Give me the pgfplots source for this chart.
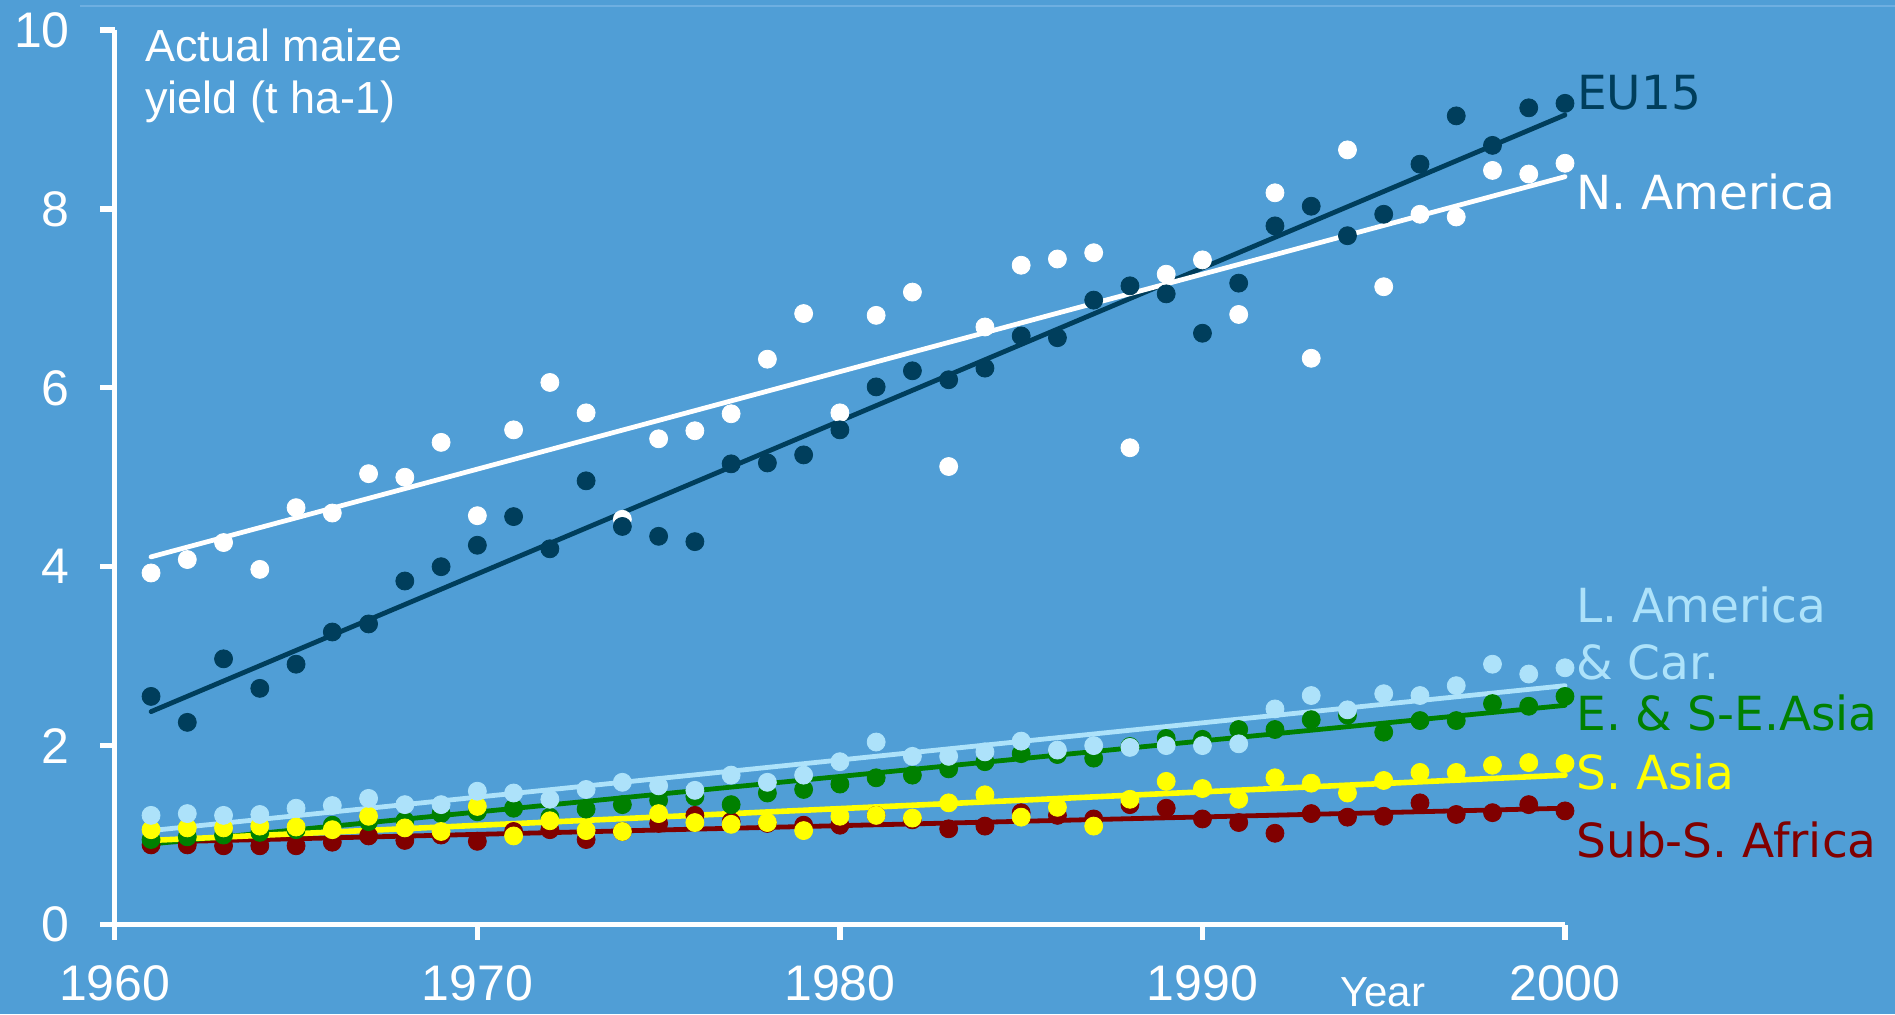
\documentclass[border=0pt]{standalone}
\usepackage{pgfplots}
\pgfplotsset{compat=1.18}
\usepackage{pgfplotstable}
\usepackage{fontspec}
\setmainfont{Liberation Sans}
\newfontfamily\dejavu{DejaVu Sans}
\definecolor{bg}{RGB}{80,158,214}
\definecolor{eu}{RGB}{0,62,92}
\definecolor{la}{RGB}{173,226,250}
\definecolor{ea}{RGB}{0,128,0}
\definecolor{sa}{RGB}{255,255,0}
\definecolor{ss}{RGB}{128,0,0}
\definecolor{topline}{RGB}{110,175,225}

\pgfplotstableread{
year eu na la ea sa ss
1961 2.55 3.93 1.22 0.95 1.06 0.89
1962 2.26 4.08 1.24 0.98 1.08 0.89
1963 2.97 4.27 1.22 1.00 1.08 0.88
1964 2.64 3.97 1.23 1.03 1.10 0.88
1965 2.91 4.66 1.30 1.06 1.09 0.88
1966 3.27 4.60 1.33 1.11 1.06 0.92
1967 3.36 5.04 1.41 1.15 1.21 0.99
1968 3.84 5.00 1.34 1.16 1.08 0.94
1969 4.00 5.39 1.34 1.24 1.04 1.00
1970 4.24 4.57 1.49 1.26 1.32 0.93
1971 4.56 5.53 1.47 1.30 0.99 1.04
1972 4.20 6.06 1.40 1.20 1.16 1.06
1973 4.96 5.72 1.51 1.29 1.05 0.95
1974 4.45 4.53 1.59 1.34 1.04 1.04
1975 4.34 5.43 1.55 1.39 1.24 1.13
1976 4.28 5.52 1.50 1.43 1.14 1.22
1977 5.15 5.71 1.67 1.34 1.12 1.15
1978 5.16 6.32 1.59 1.47 1.14 1.13
1979 5.25 6.83 1.67 1.51 1.05 1.11
1980 5.53 5.72 1.82 1.57 1.21 1.11
1981 6.01 6.81 2.04 1.64 1.22 1.22
1982 6.19 7.07 1.88 1.67 1.19 1.17
1983 6.09 5.12 1.88 1.74 1.36 1.07
1984 6.22 6.68 1.93 1.82 1.45 1.10
1985 6.58 7.37 2.05 1.91 1.20 1.25
1986 6.56 7.44 1.95 1.90 1.31 1.22
1987 6.98 7.51 2.00 1.86 1.10 1.18
1988 7.14 5.33 1.98 1.99 1.40 1.34
1989 7.05 7.27 2.00 2.08 1.60 1.30
1990 6.61 7.43 2.00 2.07 1.52 1.18
1991 7.17 6.82 2.02 2.18 1.40 1.14
1992 7.81 8.18 2.41 2.18 1.64 1.02
1993 8.03 6.33 2.56 2.29 1.58 1.24
1994 7.70 8.66 2.40 2.34 1.47 1.20
1995 7.94 7.13 2.58 2.15 1.61 1.21
1996 8.50 7.94 2.56 2.28 1.70 1.36
1997 9.04 7.91 2.67 2.28 1.70 1.23
1998 8.71 8.43 2.91 2.47 1.78 1.25
1999 9.13 8.39 2.80 2.44 1.81 1.34
2000 9.18 8.51 2.87 2.55 1.80 1.27
}\yields

\pgfplotstableread{
year eu na la ea sa ss
1961 2.38 4.11 1.05 0.90 0.94 0.92
2000 9.05 8.36 2.67 2.45 1.67 1.30
}\trends

\begin{document}
\begin{tikzpicture}
\useasboundingbox (0,0) rectangle (947.5pt,507pt);
\fill[bg] (0,0) rectangle (947.5pt,507pt);
\draw[topline, line width=0.6pt] (40pt,504pt) -- (947.5pt,504pt);
\begin{axis}[
  at={(57.4pt,44.75pt)}, anchor=south west,
  scale only axis, width=725.1pt, height=447.25pt,
  xmin=1960, xmax=2000, ymin=0, ymax=10,
  axis x line*=bottom, axis y line*=left,
  axis line style={white, line width=2.6pt},
  xtick={1960,1970,1980,1990,2000},
  ytick={0,2,4,6,8,10},
  tick style={white, line width=2.6pt},
  tick align=outside, major tick length=7.5pt,
  /pgf/number format/1000 sep={},
  /pgf/number format/assume math mode=true,
  ticklabel style={font=\fontsize{25}{30}\selectfont, text=white, inner sep=0pt},
  x tick label style={anchor=north, yshift=-12.75pt},
  y tick label style={anchor=east, xshift=-14.9pt},
  clip=false,
  every axis plot/.append style={line cap=round},
  dots/.style={only marks, mark=*, mark size=4.5pt, mark options={draw=none}},
]
\addplot[white, dots] table[x=year, y=na] {\yields};
\addplot[eu, dots] table[x=year, y=eu] {\yields};
\addplot[ss, dots] table[x=year, y=ss] {\yields};
\addplot[ea, dots] table[x=year, y=ea] {\yields};
\addplot[sa, dots] table[x=year, y=sa] {\yields};
\addplot[la, dots] table[x=year, y=la] {\yields};

\addplot[eu, line width=2.4pt, no marks] table[x=year, y=eu] {\trends};
\addplot[white, line width=2.4pt, no marks] table[x=year, y=na] {\trends};
\addplot[ss, line width=2.4pt, no marks] table[x=year, y=ss] {\trends};
\addplot[ea, line width=2.4pt, no marks] table[x=year, y=ea] {\trends};
\addplot[la, line width=2.4pt, no marks] table[x=year, y=la] {\trends};
\addplot[sa, line width=2.8pt, no marks] table[x=year, y=sa] {\trends};
\end{axis}

\begin{scope}[every node/.style={inner sep=0pt, anchor=base west, font=\dejavu\fontsize{23.5}{28}\selectfont}]
\node[text=eu] at (788.3pt,452.3pt) {EU15};
\node[text=white] at (788pt,402.3pt) {N. America};
\node[text=la] at (788pt,195.6pt) {L. America};
\node[text=la] at (788pt,167.3pt) {\& Car.};
\node[text=ea] at (788pt,142pt) {E. \& S-E.Asia};
\node[text=sa] at (788pt,112.3pt) {S. Asia};
\node[text=ss] at (788pt,78.3pt) {Sub-S. Africa};
\end{scope}
\begin{scope}[every node/.style={inner sep=0pt, anchor=base west, text=white}]
\node[font=\fontsize{22.5}{27}\selectfont] at (72.5pt,476pt) {Actual maize};
\node[font=\fontsize{22.5}{27}\selectfont] at (72.5pt,450pt) {yield (t ha-1)};
\node[font=\fontsize{21}{25}\selectfont] at (670pt,3.6pt) {Year};
\end{scope}
\end{tikzpicture}
\end{document}
